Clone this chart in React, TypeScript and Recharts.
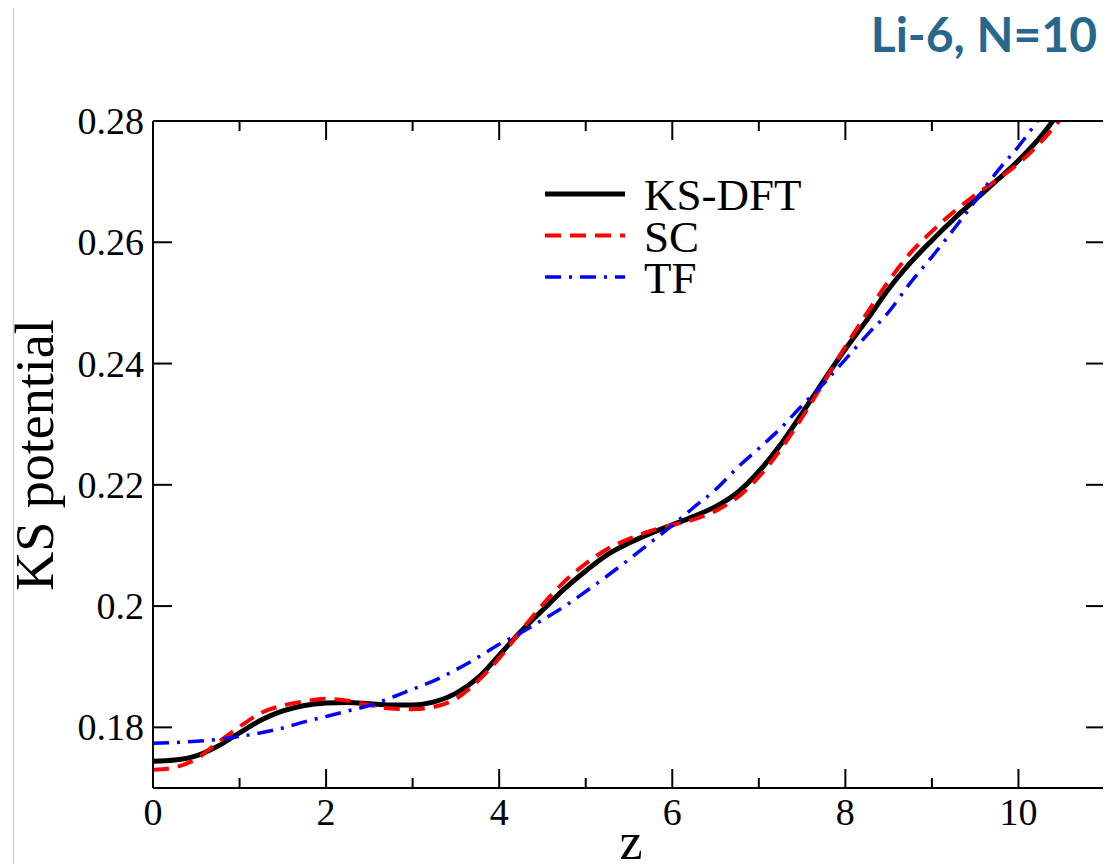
import React from "react";
import { LineChart, Line, XAxis, YAxis } from "recharts";

const zValues = [
  0, 0.25, 0.5, 0.75, 1, 1.25, 1.5, 1.75, 2, 2.25, 2.5, 2.75, 3, 3.25, 3.5, 3.75,
  4, 4.25, 4.5, 4.75, 5, 5.25, 5.5, 5.75, 6, 6.25, 6.5, 6.75, 7, 7.25, 7.5, 7.75,
  8, 8.25, 8.5, 8.75, 9, 9.25, 9.5, 9.75, 10, 10.25, 10.5,
];

const ksDft = [
  0.1744, 0.1746, 0.1753, 0.1769, 0.1791, 0.1812, 0.1827, 0.1836, 0.184, 0.1841,
  0.1839, 0.1837, 0.1837, 0.1842, 0.1856, 0.1881, 0.1919, 0.1958, 0.1993, 0.2028,
  0.2058, 0.2085, 0.2104, 0.212, 0.2134, 0.2148, 0.2164, 0.2187, 0.2222, 0.2266,
  0.2318, 0.2372, 0.2424, 0.2472, 0.2523, 0.2566, 0.2603, 0.2638, 0.267, 0.2702,
  0.2735, 0.2773, 0.282,
];

const sc = [
  0.173, 0.1734, 0.1748, 0.1775, 0.1801, 0.1824, 0.1836, 0.1843, 0.1847, 0.1844,
  0.1837, 0.1831, 0.183, 0.1834, 0.1847, 0.1876, 0.1914, 0.1959, 0.2002, 0.204,
  0.207, 0.2094, 0.2111, 0.2124, 0.2134, 0.2143, 0.2157, 0.2179, 0.2213, 0.2258,
  0.2311, 0.2369, 0.2428, 0.2483, 0.2536, 0.2582, 0.2618, 0.265, 0.2678, 0.2703,
  0.273, 0.2764, 0.2805,
];

const tf = [
  0.1774, 0.1775, 0.1777, 0.178, 0.1785, 0.1791, 0.1799, 0.1809, 0.1818, 0.1827,
  0.1836, 0.1849, 0.1863, 0.1877, 0.1895, 0.1915, 0.1937, 0.1956, 0.1977, 0.1999,
  0.2024, 0.205, 0.2077, 0.2105, 0.2133, 0.2163, 0.2192, 0.2228, 0.226, 0.2293,
  0.2331, 0.2367, 0.2407, 0.2447, 0.2485, 0.2533, 0.2576, 0.2621, 0.2668, 0.2716,
  0.2758, 0.2806, 0.2856,
];

const xTicks = [0, 1, 2, 3, 4, 5, 6, 7, 8, 9, 10];
const yTicks = [0.18, 0.2, 0.22, 0.24, 0.26, 0.28];
const xDomain = [0, 11];
const yDomain = [0.17, 0.28];

const seriesNames = ["KS-DFT", "SC", "TF"];
const seriesKeys = ["ks", "sc", "tf"];
const seriesColors = ["#000000", "#ff0000", "#0000ff"];
const seriesWidths = [5, 4, 3.5];
const seriesDashes = ["", "16 9", "16 8 3 8"];

const titleText = "Li-6, N=10";
const xLabel = "z";
const yLabel = "KS potential";

const data = zValues.map((z, i) => ({ z, ks: ksDft[i], sc: sc[i], tf: tf[i] }));

const W = 1103;
const H = 856;
const SERIF = "'Liberation Serif', 'Times New Roman', serif";

const isMajor = (v: number) => Math.abs(v % 2) < 1e-9;

const BottomTick = (props: any) => {
  const { x, y, payload } = props;
  const major = isMajor(payload.value);
  return (
    <g>
      <line x1={x} x2={x} y1={y} y2={y - (major ? 19 : 10)} stroke="#000" strokeWidth={2} />
      {major && (
        <text x={x} y={y + 37} textAnchor="middle" fontFamily={SERIF} fontSize={38} fill="#000">
          {payload.value}
        </text>
      )}
    </g>
  );
};

const TopTick = (props: any) => {
  const { x, y, payload } = props;
  const major = isMajor(payload.value);
  return <line x1={x} x2={x} y1={y} y2={y + (major ? 19 : 10)} stroke="#000" strokeWidth={2} />;
};

const fmtY = (v: number) => String(Number(v.toFixed(2)));

const LeftTick = (props: any) => {
  const { x, y, payload } = props;
  return (
    <g>
      <line x1={x} x2={x + 19} y1={y} y2={y} stroke="#000" strokeWidth={2} />
      <text x={x - 9} y={y + 13} textAnchor="end" fontFamily={SERIF} fontSize={38} fill="#000">
        {fmtY(payload.value)}
      </text>
    </g>
  );
};

const RightTick = (props: any) => {
  const { x, y } = props;
  return <line x1={x} x2={x - 19} y1={y} y2={y} stroke="#000" strokeWidth={2} />;
};

export default function App() {
  return (
    <div style={{ position: "relative", width: W, height: H }}>
      <LineChart
        width={W}
        height={H}
        data={data}
        margin={{ top: 112, right: 5, left: 65, bottom: 16 }}
      >
        <XAxis
          xAxisId="bottom"
          dataKey="z"
          type="number"
          domain={xDomain}
          ticks={xTicks}
          interval={0}
          allowDataOverflow
          height={60}
          tickSize={0}
          tickMargin={0}
          tickLine={false}
          axisLine={{ stroke: "#000", strokeWidth: 2 }}
          tick={<BottomTick />}
        />
        <XAxis
          xAxisId="top"
          orientation="top"
          dataKey="z"
          type="number"
          domain={xDomain}
          ticks={xTicks}
          interval={0}
          allowDataOverflow
          height={1}
          tickSize={0}
          tickMargin={0}
          tickLine={false}
          axisLine={{ stroke: "#000", strokeWidth: 2 }}
          tick={<TopTick />}
        />
        <YAxis
          yAxisId="left"
          type="number"
          domain={yDomain}
          ticks={yTicks}
          interval={0}
          allowDataOverflow
          width={80}
          tickSize={0}
          tickMargin={0}
          tickLine={false}
          axisLine={{ stroke: "#000", strokeWidth: 2 }}
          tick={<LeftTick />}
        />
        <YAxis
          yAxisId="right"
          orientation="right"
          type="number"
          domain={yDomain}
          ticks={yTicks}
          interval={0}
          allowDataOverflow
          width={1}
          tickSize={0}
          tickMargin={0}
          tickLine={false}
          axisLine={{ stroke: "#000", strokeWidth: 2 }}
          tick={<RightTick />}
        />
        {seriesKeys.map((k, i) => (
          <Line
            key={k}
            xAxisId="bottom"
            yAxisId="left"
            type="monotone"
            dataKey={k}
            name={seriesNames[i]}
            stroke={seriesColors[i]}
            strokeWidth={seriesWidths[i]}
            strokeDasharray={seriesDashes[i] || undefined}
            dot={false}
            activeDot={false}
            isAnimationActive={false}
          />
        ))}
      </LineChart>
      <svg
        width={W}
        height={H}
        style={{ position: "absolute", left: 0, top: 0, pointerEvents: "none" }}
      >
        <line x1={5.5} x2={5.5} y1={0} y2={H} stroke="#d4d4d4" strokeWidth={1.5} />
        <text
          x={1089}
          y={44}
          textAnchor="end"
          fontFamily="Lato, 'Open Sans', sans-serif"
          fontWeight={700}
          fontSize={48}
          fill="#27678c"
        >
          {titleText}
        </text>
        <text
          x={45}
          y={447}
          transform="rotate(-90 45 447)"
          textAnchor="middle"
          fontFamily={SERIF}
          fontSize={54}
          fill="#000"
        >
          {yLabel}
        </text>
        <text x={623} y={851} textAnchor="middle" fontFamily={SERIF} fontSize={52} fill="#000">
          {xLabel}
        </text>
        {seriesNames.map((n, i) => {
          const cy = 186 + i * 41.5;
          return (
            <g key={n}>
              <line
                x1={537}
                x2={617}
                y1={cy}
                y2={cy}
                stroke={seriesColors[i]}
                strokeWidth={seriesWidths[i]}
                strokeDasharray={seriesDashes[i] || undefined}
              />
              <text x={636} y={cy + 16} fontFamily={SERIF} fontSize={45} fill="#000">
                {n}
              </text>
            </g>
          );
        })}
      </svg>
    </div>
  );
}
